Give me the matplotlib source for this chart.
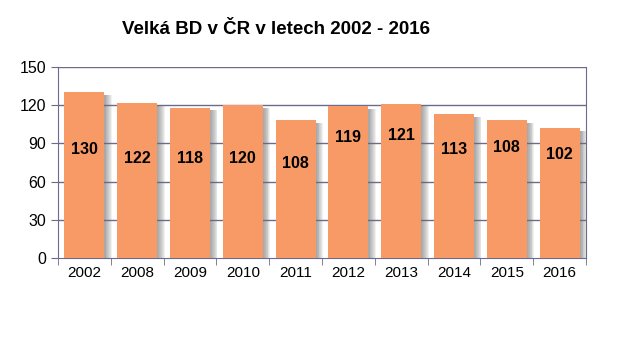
import matplotlib.pyplot as plt
import numpy as np

# data
years = ['2002', '2008', '2009', '2010', '2011', '2012', '2013', '2014', '2015', '2016']
counts = [130, 122, 118, 120, 108, 119, 121, 113, 108, 102]
# where the value labels sit inside the bars (as in the original)
label_y = [85, 78.5, 78.5, 78.5, 74.5, 95, 96.5, 85.5, 87, 81]

plt.rcParams['font.family'] = ['Liberation Sans', 'DejaVu Sans']

fig = plt.figure(figsize=(6.29, 3.52), dpi=100)
ax = fig.add_axes([58/629, 1 - 258/352, 528/629, 191/352])

x = np.arange(len(years))
w = 0.76
line_col = '#6b6b8e'

ax.set_ylim(0, 150)
ax.set_xlim(-0.5, len(years) - 0.5)
ax.set_yticks(range(0, 151, 30))
for v in range(30, 151, 30):
    ax.axhline(v, color=line_col, lw=1, zorder=1)

# soft shadow on the right side of each bar
for s in np.linspace(0, 1, 8):
    ax.bar(x + 0.02 + s * 0.12, [c - 2 for c in counts], width=w, color='#707070',
           alpha=0.1, zorder=2, linewidth=0)
ax.bar(x, counts, width=w, color='#F89A65', zorder=3, linewidth=0)

for xi, c, ly in zip(x, counts, label_y):
    ax.text(xi, ly, str(c), ha='center', va='center', fontsize=11.5,
            fontweight='bold', color='black', zorder=4)

ax.set_xticks(x)
ax.set_xticklabels(years, fontsize=11)
ax.set_xticks(np.arange(-0.5, len(years)), minor=True)
ax.tick_params(axis='x', which='major', length=0, pad=6)
ax.tick_params(axis='x', which='minor', length=5, color=line_col, direction='out')
ax.tick_params(axis='y', length=5, color=line_col, labelsize=11.5, direction='out')

for side in ['left', 'right', 'bottom']:
    ax.spines[side].set_color(line_col)
ax.spines['top'].set_visible(False)

fig.text(276/629, 1 - 30/352, 'Velká BD v ČR v letech 2002 - 2016', ha='center',
         va='center', fontsize=13.5, fontweight='bold')

fig.savefig('out.png', dpi=100)
